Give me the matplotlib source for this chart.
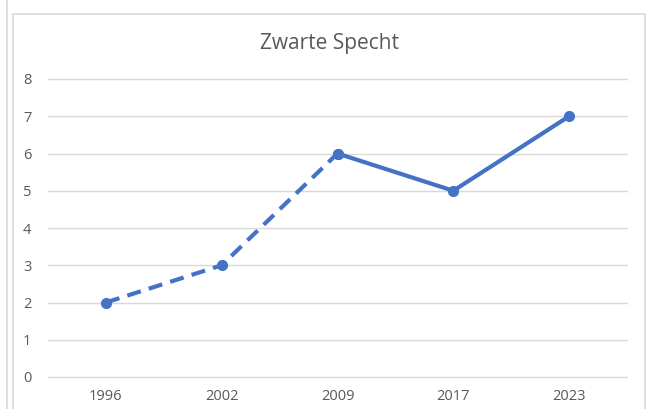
import matplotlib.pyplot as plt
from matplotlib.patches import Rectangle
from matplotlib.lines import Line2D

# Zwarte Specht - aantallen per jaar
years = ['1996', '2002', '2009', '2017', '2023']
counts = [2, 3, 6, 5, 7]
dashed_upto = 2  # index van 2009: tot hier gestippeld
yticks = [0, 1, 2, 3, 4, 5, 6, 7, 8]

W, H = 653, 409
blue = '#4472C4'
grey_txt = '#595959'

fig = plt.figure(figsize=(W / 100, H / 100), dpi=100)
fig.patch.set_facecolor('white')

# randen van het kader (Excel-stijl)
fig.add_artist(Rectangle((13 / W, -0.05), (645 - 13) / W, (H - 14) / H + 0.05,
                         transform=fig.transFigure, fill=False,
                         edgecolor='#d9d9d9', linewidth=1.2))
fig.add_artist(Line2D([7 / W, 7 / W], [0, 1], transform=fig.transFigure,
                      color='#d9d9d9', linewidth=1.2))

ax = fig.add_axes([48 / W, (H - 377) / H, (627 - 48) / W, (377 - 79) / H])
x = list(range(len(years)))

ax.plot(x[:dashed_upto + 1], counts[:dashed_upto + 1], color=blue, linewidth=3.0,
        linestyle=(0, (3.4, 2.0)), marker='o', markersize=7, dash_capstyle='butt',
        zorder=3, clip_on=False)
ax.plot(x[dashed_upto:], counts[dashed_upto:], color=blue, linewidth=3.0,
        marker='o', markersize=7, zorder=3, clip_on=False)

ax.set_xlim(-0.5, len(years) - 0.5)
ax.set_ylim(0, 8)
ax.set_xticks(x)
ax.set_xticklabels(years)
ax.set_yticks(yticks)
ax.grid(axis='y', color='#d9d9d9', linewidth=1.0)
for gl in ax.get_ygridlines():
    gl.set_clip_on(False)
ax.set_axisbelow(True)
for s in ax.spines.values():
    s.set_visible(False)
ax.tick_params(length=0, labelsize=10.5, labelcolor=grey_txt, pad=9)
ax.tick_params(axis='y', pad=12)
for lbl in ax.get_xticklabels() + ax.get_yticklabels():
    lbl.set_fontfamily('Open Sans')

fig.text(329 / W, 1 - 44 / H, 'Zwarte Specht', ha='center', va='center',
         fontsize=15, color=grey_txt, fontfamily='Open Sans')

fig.savefig('out.png', dpi=100)
